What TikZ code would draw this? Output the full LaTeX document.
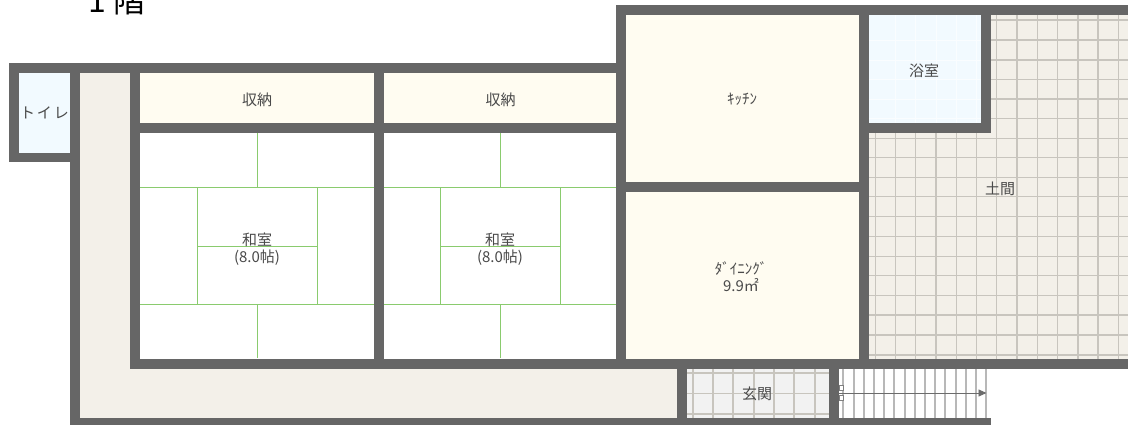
\documentclass[tikz,border=0pt]{standalone}
\usepackage{fontspec}
\setmainfont{Noto Sans CJK JP}
\usetikzlibrary{arrows.meta}
\definecolor{wallc}{HTML}{666666}
\definecolor{earth}{HTML}{F3F0E9}
\definecolor{cream}{HTML}{FFFCF1}
\definecolor{water}{HTML}{F2FAFF}
\definecolor{tatami}{HTML}{8ACB6E}
\definecolor{gridc}{HTML}{C8C5BE}
\definecolor{labelc}{HTML}{4A4A4A}
\tikzset{
  room/.style={fill=#1,draw=none},
  wall/.style={fill=wallc,draw=none},
  tatamiline/.style={draw=tatami,line width=1.2pt},
  tile/.style={draw=gridc,line width=1.4pt},
  faint/.style={draw=white!60!water,line width=0.8pt},
  tread/.style={draw=black!28,line width=2pt},
  lbl/.style={text=labelc,font=\fontsize{15}{17}\selectfont,inner sep=0pt,align=center},
}
\begin{document}
\begin{tikzpicture}[x=1pt,y=-1pt]
\useasboundingbox (0,0) rectangle (1128,425);
\clip (0,0) rectangle (1128,425);
\fill[white] (0,0) rectangle (1128,425);
% room fills
\fill[room=water] (18,73) rectangle (70,153);
\fill[room=earth] (79,73) rectangle (130,418);
\fill[room=earth] (130,368) rectangle (677,418);
\fill[room=cream] (140,73) rectangle (374,123);
\fill[room=cream] (384,73) rectangle (617,123);
\fill[room=cream] (626,15) rectangle (860,183);
\fill[room=cream] (626,192) rectangle (860,359);
\fill[room=earth] (869,15) rectangle (1128,359);
\fill[room=water] (869,15) rectangle (981,123);
\fill[room={black!5}] (687,368) rectangle (829,418);
% bath faint tiles
\foreach \x in {895.7,915.7,936,956.3,976.7} \draw[faint] (\x,15) -- (\x,123);
\foreach \y in {40,60,79.3,99,118.3} \draw[faint] (869,\y) -- (981,\y);
% doma grid
\foreach \x in {875.7,895.7,915.7,936,956.3,976.7}
  \draw[tile] (\x,123) -- (\x,359);
\foreach \x in {996.7,1017,1037.3,1057.7,1078,1098,1118.3}
  \draw[tile] (\x,15) -- (\x,359);
\foreach \y in {20,40,60,79.3,99,118.3}
  \draw[tile] (981,\y) -- (1128,\y);
\foreach \y in {138.3,157.7,177.7,196.7,216.7,236.7,256.7,275.7,295.7,315,335,355}
  \draw[tile] (869,\y) -- (1128,\y);
% genkan grid
\foreach \x in {693,713,733,754,774,794,815} \draw[tile] (\x,368) -- (\x,418);
\foreach \y in {373,393.5,414} \draw[tile] (687,\y) -- (829,\y);
% stairs
\foreach \x in {843.3,853.5,863.7,873.9,884.1,894.3,904.5,914.7,924.9,935.1,945.3,955.5,965.7,975.9,986}
  \draw[tread] (\x,368) -- (\x,418);
\coordinate (stairA) at (839,393);
\coordinate (stairB) at (986.5,393);
\draw[draw=gray!85!black,line width=0.9pt,-{Triangle[length=8pt,width=7pt]}] (stairA) -- (stairB);
\draw[draw=gray,line width=0.8pt,fill=white] (839,385) rectangle (843.5,390);
\draw[draw=gray,line width=0.8pt,fill=white] (839,395) rectangle (843.5,400.5);
% tatami
\foreach \o in {0,243}{
  \begin{scope}[xshift=\o]
  \draw[tatamiline] (257.5,133) -- (257.5,187.5);
  \draw[tatamiline] (140,187.5) -- (373.5,187.5);
  \draw[tatamiline] (197.5,187.5) -- (197.5,304.5);
  \draw[tatamiline] (317.5,187.5) -- (317.5,304.5);
  \draw[tatamiline] (197.5,246.5) -- (317.5,246.5);
  \draw[tatamiline] (140,304.5) -- (373.5,304.5);
  \draw[tatamiline] (257.5,304.5) -- (257.5,358);
  \end{scope}
}
% walls
\fill[wall] (8.5,63.5) rectangle (617,73.5);
\fill[wall] (8.5,63.5) rectangle (18.5,162.5);
\fill[wall] (8.5,153) rectangle (79.5,162.5);
\fill[wall] (70,63.5) rectangle (79.5,428);
\fill[wall] (70,417.5) rectangle (990.5,428);
\fill[wall] (130,63.5) rectangle (140,368.5);
\fill[wall] (130,123) rectangle (617,133);
\fill[wall] (373.5,63.5) rectangle (383.5,368.5);
\fill[wall] (616,5) rectangle (626,368.5);
\fill[wall] (616,5) rectangle (1128,15);
\fill[wall] (859,5) rectangle (869,368.5);
\fill[wall] (981,5) rectangle (991,132.7);
\fill[wall] (859,122.7) rectangle (991,132.7);
\fill[wall] (616,182.5) rectangle (869,192);
\fill[wall] (130,358.5) rectangle (1128,368.5);
\fill[wall] (677,368) rectangle (687,428);
\fill[wall] (829,368) rectangle (839,428);
% labels
\node[font=\fontsize{32}{32}\selectfont,anchor=base,text=black,inner sep=0pt] (title) at (117,13) {1 階};
\node[lbl] (toilet) at (44.5,113) {ト\hspace{2pt}イ\hspace{2pt}レ};
\node[lbl] (sto1) at (257,100) {収納};
\node[lbl] (sto2) at (500.5,100) {収納};
\node[lbl] (kit) at (742,99) {ｷｯﾁﾝ};
\node[lbl] (bath) at (924,71) {浴室};
\node[lbl] (doma) at (1000,188.5) {土間};
\node[lbl] (wa1) at (257,249) {和室\\(8.0帖)};
\node[lbl] (wa2) at (500,249) {和室\\(8.0帖)};
\node[lbl] (din) at (741,277) {ﾀﾞｲﾆﾝｸﾞ\\9.9㎡};
\node[lbl] (gen) at (757,394) {玄関};
\end{tikzpicture}
\end{document}
